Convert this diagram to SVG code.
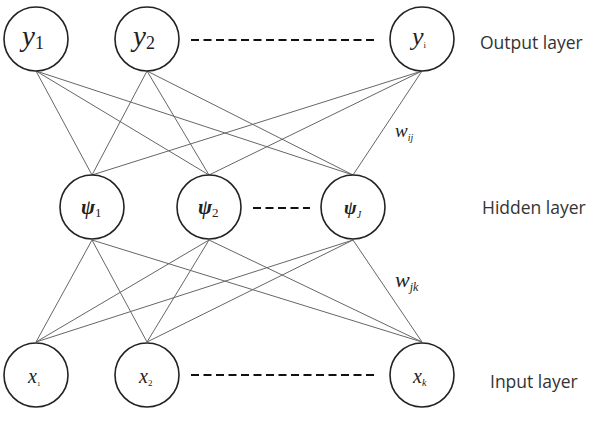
<svg xmlns="http://www.w3.org/2000/svg" width="597" height="421" viewBox="0 0 597 421">
<style>
.node circle{fill:#fff;stroke:#222;stroke-width:1.6}
.conn line{stroke:#666;stroke-width:1}
.conn line.dash{stroke:#111;stroke-width:2.2;stroke-dasharray:8,4.5}
.lbl{font-family:"Liberation Serif",serif;font-style:italic;fill:#222}
.sub{font-style:normal}
.layer{font-family:"Open Sans","DejaVu Sans",sans-serif;font-size:17.5px;fill:#333}
</style>
<rect width="597" height="421" fill="#fff"/>
<g class="conn">
<line x1="36" y1="71" x2="92" y2="175"/><line x1="36" y1="71" x2="209" y2="175"/><line x1="36" y1="71" x2="353" y2="175"/>
<line x1="147" y1="71" x2="92" y2="175"/><line x1="147" y1="71" x2="209" y2="175"/><line x1="147" y1="71" x2="353" y2="175"/>
<line x1="422" y1="71" x2="92" y2="175"/><line x1="422" y1="71" x2="209" y2="175"/><line x1="422" y1="71" x2="353" y2="175"/>
<line x1="92" y1="240" x2="36" y2="342"/><line x1="92" y1="240" x2="147" y2="342"/><line x1="92" y1="240" x2="422" y2="342"/>
<line x1="209" y1="240" x2="36" y2="342"/><line x1="209" y1="240" x2="147" y2="342"/><line x1="209" y1="240" x2="422" y2="342"/>
<line x1="353" y1="240" x2="36" y2="342"/><line x1="353" y1="240" x2="147" y2="342"/><line x1="353" y1="240" x2="422" y2="342"/>
<line class="dash" x1="191" y1="40" x2="378" y2="40"/>
<line class="dash" x1="253" y1="208" x2="310" y2="208"/>
<line class="dash" x1="191" y1="375" x2="378" y2="375"/>
</g>
<g id="y1" class="node"><circle cx="36" cy="39" r="32"/><text class="lbl" x="22" y="46" font-size="29">y<tspan class="sub" font-size="18" dy="3">1</tspan></text></g>
<g id="y2" class="node"><circle cx="147" cy="39" r="32"/><text class="lbl" x="133" y="46" font-size="29">y<tspan class="sub" font-size="18" dy="3">2</tspan></text></g>
<g id="yi" class="node"><circle cx="422" cy="39" r="32"/><text class="lbl" x="412" y="45" font-size="26">y<tspan class="sub" font-size="9" dy="3">i</tspan></text></g>
<g id="psi1" class="node"><circle cx="92" cy="207" r="32"/><text class="lbl" x="81" y="214" font-size="21" font-weight="bold">ψ<tspan class="sub" font-weight="normal" font-size="13" dy="3">1</tspan></text></g>
<g id="psi2" class="node"><circle cx="209" cy="207" r="32"/><text class="lbl" x="198" y="214" font-size="21" font-weight="bold">ψ<tspan class="sub" font-weight="normal" font-size="13" dy="3">2</tspan></text></g>
<g id="psiJ" class="node"><circle cx="353" cy="207" r="32"/><text class="lbl" x="344" y="214" font-size="19" font-weight="bold">ψ<tspan font-weight="normal" font-size="10" dy="4">J</tspan></text></g>
<g id="x1" class="node"><circle cx="36" cy="375" r="32"/><text class="lbl" x="28" y="383" font-size="20">x<tspan class="sub" font-size="7" dy="3">1</tspan></text></g>
<g id="x2" class="node"><circle cx="147" cy="375" r="32"/><text class="lbl" x="139" y="383" font-size="20">x<tspan class="sub" font-size="9" dy="3">2</tspan></text></g>
<g id="xk" class="node"><circle cx="422" cy="375" r="32"/><text class="lbl" x="413" y="383" font-size="20">x<tspan font-size="10" dy="3">k</tspan></text></g>
<text class="lbl" x="395" y="137" font-size="19">w<tspan font-size="10" dy="4">ij</tspan></text>
<text class="lbl" x="395" y="287" font-size="22">w<tspan font-size="12" dy="4">jk</tspan></text>
<text class="layer" x="480" y="49">Output layer</text>
<text class="layer" x="482" y="214">Hidden layer</text>
<text class="layer" x="490" y="388">Input layer</text>
</svg>
